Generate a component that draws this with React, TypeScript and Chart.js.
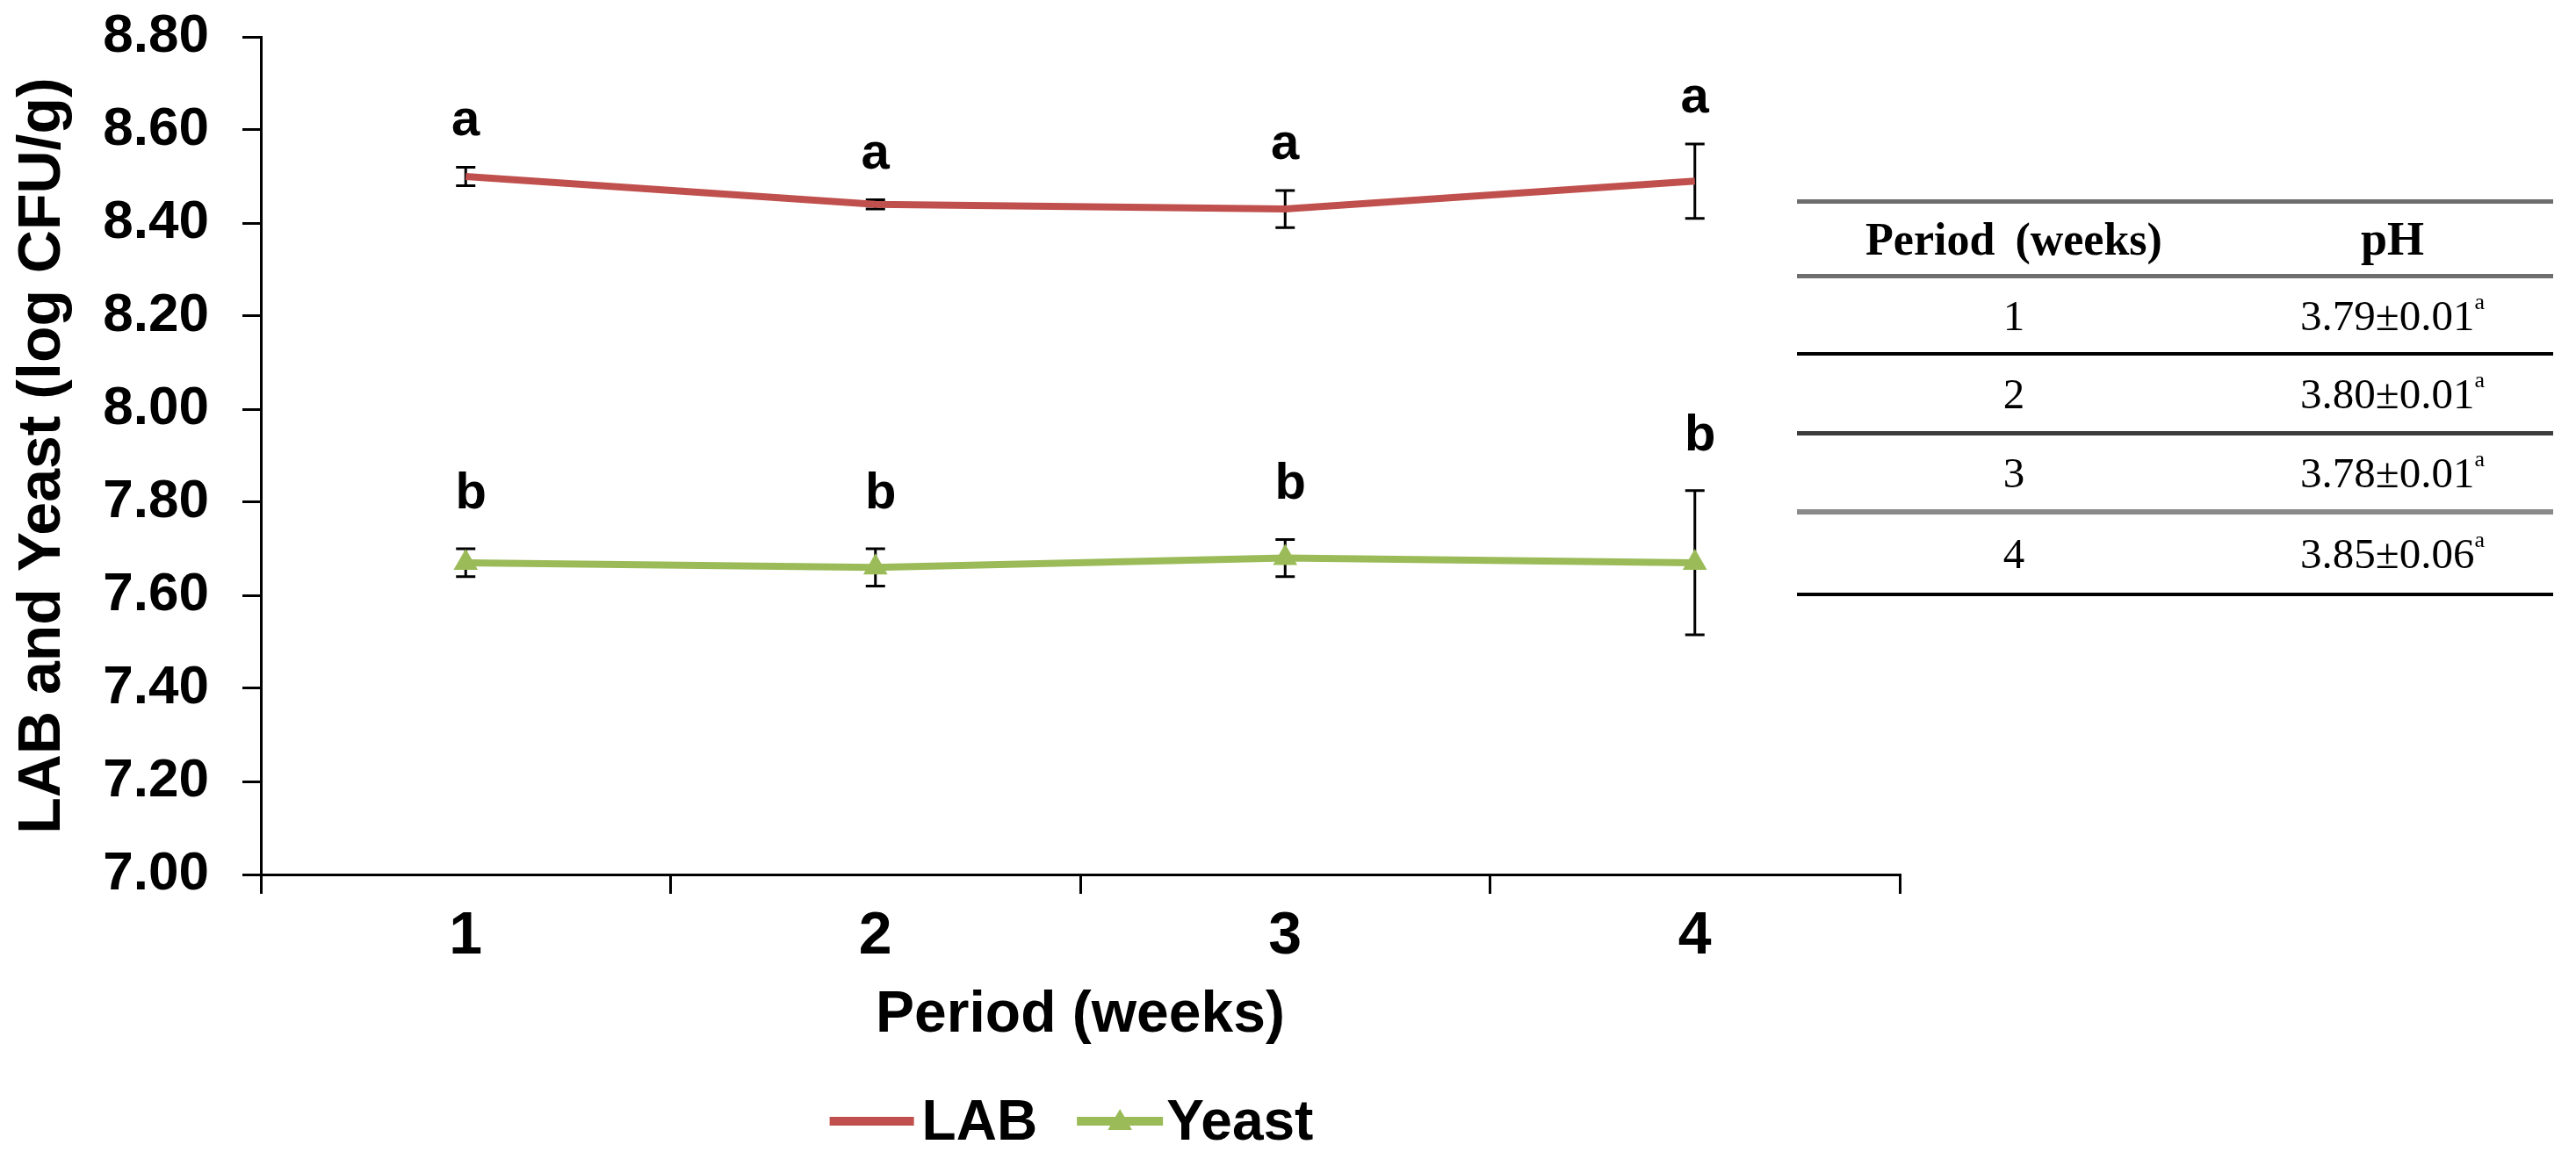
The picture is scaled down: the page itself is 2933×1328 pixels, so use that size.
import React, { useEffect, useRef } from "react";
import { Chart, registerables } from "chart.js";

Chart.register(...registerables);

// chart data
const periods = ["1", "2", "3", "4"];
const labMeans = [8.5, 8.44, 8.43, 8.49];
const labErrors = [0.02, 0.01, 0.04, 0.08];
const yeastMeans = [7.67, 7.66, 7.68, 7.67];
const yeastErrors = [0.03, 0.04, 0.04, 0.155];
const labLetters = ["a", "a", "a", "a"];
const yeastLetters = ["b", "b", "b", "b"];

// pH table
const phPeriods = ["1", "2", "3", "4"];
const phValues = ["3.79±0.01", "3.80±0.01", "3.78±0.01", "3.85±0.06"];
const phLetters = ["a", "a", "a", "a"];

const LAB_COLOR = "#C0504D";
const YEAST_COLOR = "#9BBB59";
const SANS = "'Liberation Sans', Arial, sans-serif";
const SERIF = "'Liberation Serif', 'Times New Roman', serif";

const W = 2933;
const H = 1328;

const drawTriangle = (ctx: CanvasRenderingContext2D, x: number, y: number, r: number) => {
  ctx.beginPath();
  for (let k = 0; k < 3; k++) {
    const a = (k * 2 * Math.PI) / 3;
    const px = x + Math.sin(a) * r;
    const py = y - Math.cos(a) * r;
    if (k === 0) ctx.moveTo(px, py);
    else ctx.lineTo(px, py);
  }
  ctx.closePath();
  ctx.fill();
};

const extrasPlugin = {
  id: "extras",
  beforeDatasetsDraw(chart: any) {
    const { ctx, scales } = chart;
    const x = scales.x;
    const y = scales.y;
    ctx.save();
    ctx.strokeStyle = "#000";
    ctx.lineWidth = 3;
    const series: [number[], number[]][] = [
      [labMeans, labErrors],
      [yeastMeans, yeastErrors],
    ];
    series.forEach(([means, errs]) => {
      means.forEach((v, i) => {
        const px = x.getPixelForValue(i);
        const top = y.getPixelForValue(v + errs[i]);
        const bot = y.getPixelForValue(v - errs[i]);
        ctx.beginPath();
        ctx.moveTo(px, top);
        ctx.lineTo(px, bot);
        ctx.moveTo(px - 11, top);
        ctx.lineTo(px + 11, top);
        ctx.moveTo(px - 11, bot);
        ctx.lineTo(px + 11, bot);
        ctx.stroke();
      });
    });
    ctx.restore();
  },
  afterDatasetsDraw(chart: any) {
    const { ctx, scales } = chart;
    const x = scales.x;
    const y = scales.y;
    ctx.save();
    ctx.fillStyle = "#000";
    ctx.font = `bold 58px ${SANS}`;
    ctx.textAlign = "center";
    ctx.textBaseline = "alphabetic";
    labMeans.forEach((v, i) => {
      const top = y.getPixelForValue(v + labErrors[i]);
      ctx.fillText(labLetters[i], x.getPixelForValue(i), top - 36);
    });
    yeastMeans.forEach((v, i) => {
      const top = y.getPixelForValue(v + yeastErrors[i]);
      ctx.fillText(yeastLetters[i], x.getPixelForValue(i) + 6, top - 46);
    });
    ctx.restore();
  },
  afterDraw(chart: any) {
    const { ctx, chartArea } = chart;
    const cy = chart.height - 51;
    ctx.save();
    ctx.font = `bold 64px ${SANS}`;
    ctx.textBaseline = "middle";
    const labW = ctx.measureText("LAB").width;
    const yeastW = ctx.measureText("Yeast").width;
    const total = 96 + 9 + labW + 45 + 98 + 4 + yeastW;
    let cx = (chartArea.left + chartArea.right) / 2 - 10 - total / 2;

    ctx.strokeStyle = LAB_COLOR;
    ctx.lineWidth = 10;
    ctx.beginPath();
    ctx.moveTo(cx, cy);
    ctx.lineTo(cx + 96, cy);
    ctx.stroke();
    cx += 96 + 9;
    ctx.fillStyle = "#000";
    ctx.fillText("LAB", cx, cy + 3);
    cx += labW + 45;

    ctx.strokeStyle = YEAST_COLOR;
    ctx.beginPath();
    ctx.moveTo(cx, cy);
    ctx.lineTo(cx + 98, cy);
    ctx.stroke();
    ctx.fillStyle = YEAST_COLOR;
    drawTriangle(ctx, cx + 49, cy + 2, 16);
    cx += 98 + 4;
    ctx.fillStyle = "#000";
    ctx.fillText("Yeast", cx, cy + 3);
    ctx.restore();
  },
};

const App: React.FC = () => {
  const canvasRef = useRef<HTMLCanvasElement | null>(null);

  useEffect(() => {
    if (!canvasRef.current) return;
    const ctx = canvasRef.current.getContext("2d");
    if (!ctx) return;

    const chart = new Chart(ctx, {
      type: "line",
      data: {
        labels: periods,
        datasets: [
          {
            label: "LAB",
            data: labMeans,
            borderColor: LAB_COLOR,
            backgroundColor: LAB_COLOR,
            borderWidth: 8,
            pointRadius: 0,
            tension: 0,
          },
          {
            label: "Yeast",
            data: yeastMeans,
            borderColor: YEAST_COLOR,
            backgroundColor: YEAST_COLOR,
            borderWidth: 8,
            pointStyle: "triangle",
            pointRadius: 16,
            pointBorderWidth: 0,
            tension: 0,
          },
        ],
      },
      options: {
        responsive: false,
        animation: false,
        devicePixelRatio: 1,
        layout: { padding: { left: 0, right: W - 2163, top: 42, bottom: 0 } },
        plugins: {
          legend: { display: false },
          tooltip: { enabled: false },
        },
        scales: {
          x: {
            type: "category",
            offset: true,
            afterFit: (scale: any) => {
              scale.height = H - 996;
            },
            border: { display: true, color: "#000", width: 3 },
            grid: {
              offset: true,
              drawOnChartArea: false,
              drawTicks: true,
              tickLength: 22,
              color: "#000",
              lineWidth: 3,
            },
            ticks: {
              color: "#000",
              padding: 8,
              font: { family: SANS, size: 68, weight: "bold" },
            },
            title: {
              display: true,
              text: "Period (weeks)",
              color: "#000",
              font: { family: SANS, size: 66, weight: "bold" },
              padding: { top: 0, bottom: 132 },
            },
          },
          y: {
            min: 7,
            max: 8.8,
            afterFit: (scale: any) => {
              scale.width = 297;
              // tick padding would otherwise push the plot top down
              scale.paddingTop = 0;
              scale.paddingBottom = 0;
            },
            border: { display: true, color: "#000", width: 3 },
            grid: {
              drawOnChartArea: false,
              drawTicks: true,
              tickLength: 21,
              color: "#000",
              lineWidth: 3,
            },
            ticks: {
              stepSize: 0.2,
              color: "#000",
              padding: 38,
              font: { family: SANS, size: 62, weight: "bold" },
              callback: (v: any) => Number(v).toFixed(2),
            },
            title: {
              display: true,
              text: "LAB and Yeast (log CFU/g)",
              color: "#000",
              font: { family: SANS, size: 68, weight: "bold" },
              padding: { top: 8, bottom: 0 },
            },
          },
        },
      },
      plugins: [extrasPlugin],
    });

    return () => chart.destroy();
  }, []);

  const ruleY = [229, 314, 403, 493, 583, 677];
  const ruleColor = ["#6e6e6e", "#6e6e6e", "#000", "#3c3c3c", "#8a8a8a", "#000"];
  const ruleWidth = [5, 5, 4, 5, 6, 4];
  const tableLeft = 2046;
  const tableRight = 2907;
  const col1 = 2293;
  const col2 = 2724;

  return (
    <div
      style={{
        position: "fixed",
        left: 0,
        top: 0,
        width: W,
        height: H,
        background: "#fff",
        overflow: "hidden",
      }}
    >
      <canvas ref={canvasRef} width={W} height={H} style={{ position: "absolute", left: 0, top: 0 }} />

      {ruleY.map((y, i) => (
        <div
          key={"r" + i}
          style={{
            position: "absolute",
            left: tableLeft,
            width: tableRight - tableLeft,
            top: y - ruleWidth[i] / 2,
            height: ruleWidth[i],
            background: ruleColor[i],
          }}
        />
      ))}

      <div
        style={{
          position: "absolute",
          left: col1,
          top: (ruleY[0] + ruleY[1]) / 2,
          transform: "translate(-50%, -50%)",
          font: `bold 52px ${SERIF}`,
          whiteSpace: "nowrap",
          wordSpacing: 10,
          color: "#000",
        }}
      >
        Period (weeks)
      </div>
      <div
        style={{
          position: "absolute",
          left: col2,
          top: (ruleY[0] + ruleY[1]) / 2,
          transform: "translate(-50%, -50%)",
          font: `bold 54px ${SERIF}`,
          whiteSpace: "nowrap",
          color: "#000",
        }}
      >
        pH
      </div>

      {phPeriods.map((p, i) => {
        const cy = (ruleY[i + 1] + ruleY[i + 2]) / 2;
        return (
          <React.Fragment key={"row" + i}>
            <div
              style={{
                position: "absolute",
                left: col1,
                top: cy,
                transform: "translate(-50%, -50%)",
                font: `49px ${SERIF}`,
                whiteSpace: "nowrap",
                color: "#000",
              }}
            >
              {p}
            </div>
            <div
              style={{
                position: "absolute",
                left: col2,
                top: cy,
                transform: "translate(-50%, -50%)",
                font: `49px ${SERIF}`,
                whiteSpace: "nowrap",
                color: "#000",
              }}
            >
              {phValues[i]}
              <sup style={{ fontSize: 26, verticalAlign: "top", lineHeight: 1 }}>{phLetters[i]}</sup>
            </div>
          </React.Fragment>
        );
      })}
    </div>
  );
};

export default App;
